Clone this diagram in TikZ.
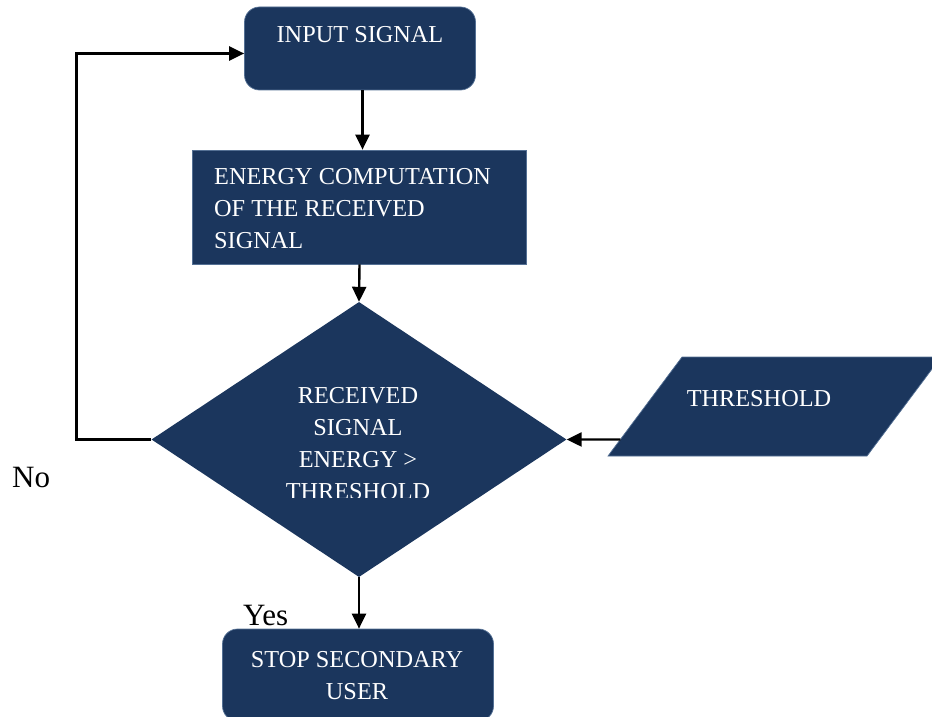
\documentclass[tikz,border=0pt]{standalone}
\usepackage{fontspec}
\setmainfont{Liberation Serif}
\usetikzlibrary{shapes.geometric,arrows.meta,calc}
\definecolor{boxfill}{RGB}{27,54,93}
\definecolor{boxedge}{RGB}{84,112,148}
\begin{document}
\begin{tikzpicture}[x=1pt,y=-1pt,
  box/.style={fill=boxfill, draw=boxedge, line width=0.7pt, inner sep=0pt},
  boxtext/.style={text=white, inner sep=0pt, font=\fontsize{24.3}{32}\selectfont},
  note/.style={inner sep=0pt, font=\fontsize{31}{36}\selectfont},
  arr/.style={line width=2.4pt, -{Triangle[length=15pt,width=14pt]}}]
\useasboundingbox (0,0) rectangle (932,717);
\clip (0,0) rectangle (932,717);

% process blocks
\node[box, rounded corners=15pt, minimum width=231pt, minimum height=83pt] (input) at (360,48.5) {};
\node[box, minimum width=334pt, minimum height=114pt] (energy) at (359.5,207) {};
\node[diamond, fill=boxfill, inner sep=0pt, aspect=1.509,
      minimum width=415pt, minimum height=275pt] (dia) at (359,439.5) {};
\node[box, rounded corners=15pt, minimum width=271pt, minimum height=92pt] (stop) at (358,675) {};

% threshold input (parallelogram)
\coordinate (thr-bl) at (608,456);
\coordinate (thr-tl) at (682,357);
\coordinate (thr-tr) at (941,357);
\coordinate (thr-br) at (867,456);
\path[box] (thr-bl) -- (thr-tl) -- (thr-tr) -- (thr-br) -- cycle;

% block texts
\node[boxtext, anchor=base] at (360,43) {INPUT SIGNAL};
\node[boxtext, anchor=north west, align=left] at (214,168)
  {ENERGY COMPUTATION\\OF THE RECEIVED\\SIGNAL};
\begin{scope}
  \clip (100,300) rectangle (620,497);
  \node[boxtext, anchor=north, align=center] at (358,387.5)
    {RECEIVED\\SIGNAL\\ENERGY >\\THRESHOLD};
\end{scope}
\node[boxtext, anchor=base] (thrtext) at (759,406.5) {THRESHOLD};
\node[boxtext, anchor=north, align=center] at (357,651) {STOP SECONDARY\\USER};

% connectors
\coordinate (a1) at ([xshift=2.5pt]input.south);
\draw[arr] (a1) -- (a1 |- energy.north);
\draw[arr] (energy.south) -- (dia.north);
\coordinate (tin) at ($(thr-bl)!0.167!(thr-tl)$);
\draw[arr] (tin) -- (dia.east);
\draw[arr] (dia.west) -- ++(-75,0) |- ([yshift=-5pt]input.west);
\draw[arr] (dia.south) -- (dia.south |- stop.north);

% branch labels
\node[note, anchor=base west] at (243,625) {Yes};
\node[note, anchor=base west] at (12,487) {No};
\end{tikzpicture}
\end{document}
